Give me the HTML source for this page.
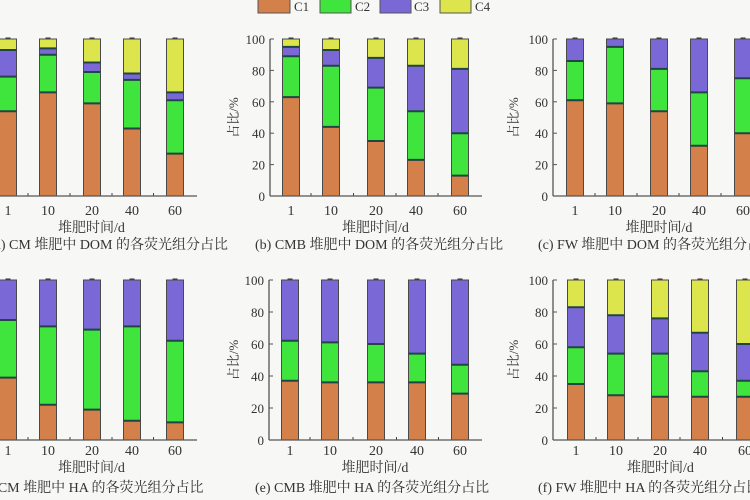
<!DOCTYPE html>
<html><head><meta charset="utf-8"><style>
html,body{margin:0;padding:0;background:#f7f7f5;}
svg{display:block}
text{font-family:"Liberation Serif","Noto Serif CJK SC",serif;fill:#333}
</style></head><body>
<svg id="s" width="750" height="500" viewBox="0 0 750 500" xmlns="http://www.w3.org/2000/svg">
<rect width="750" height="500" fill="#f7f7f5"/>
<!-- legend -->
<rect x="258" y="-2" width="32" height="15" fill="#d4804a" stroke="#555"/>
<text x="294" y="11" font-size="13">C1</text>
<rect x="320" y="-2" width="31" height="15" fill="#3fe43c" stroke="#555"/>
<text x="355" y="11" font-size="13">C2</text>
<rect x="380" y="-2" width="31" height="15" fill="#7a68d6" stroke="#555"/>
<text x="414" y="11" font-size="13">C3</text>
<rect x="440" y="-2" width="31" height="15" fill="#dce64c" stroke="#555"/>
<text x="475" y="11" font-size="13">C4</text>
</svg>
<script>
var C=["#d4804a","#3fe43c","#7a68d6","#dce64c"];
var s=document.getElementById("s"),h="";
var P=[
 {ax:-10,xs:[8,48,92,132,175],top:39,zero:196,lab:null,xl:215,tl:232,cap:249,capx:-10,cap_t:"(a) CM 堆肥中 DOM 的各荧光组分占比",
  d:[[54,76,93],[66,90,94],[59,79,85],[43,74,78],[27,61,66]]},
 {ax:270,xs:[291,331,376,416,460],top:39,zero:196,lab:238,xl:215,tl:232,cap:249,capx:255,cap_t:"(b) CMB 堆肥中 DOM 的各荧光组分占比",
  d:[[63,89,95],[44,83,93],[35,69,88],[23,54,83],[13,40,81]]},
 {ax:553,xs:[575,615,659,699,743],top:39,zero:196,lab:518,xl:215,tl:232,cap:249,capx:538,cap_t:"(c) FW 堆肥中 DOM 的各荧光组分占比",
  d:[[61,86,100],[59,95,100],[54,81,100],[32,66,100],[40,75,100]]},
 {ax:-10,xs:[8,48,92,132,175],top:280,zero:440,lab:null,xl:455,tl:472,cap:492,capx:-22,cap_t:"(d) CM 堆肥中 HA 的各荧光组分占比",
  d:[[39,75,100],[22,71,100],[19,69,100],[12,71,100],[11,62,100]]},
 {ax:269,xs:[290,330,376,417,460],top:280,zero:440,lab:238,xl:455,tl:472,cap:492,capx:255,cap_t:"(e) CMB 堆肥中 HA 的各荧光组分占比",
  d:[[37,62,100],[36,61,100],[36,60,100],[36,54,100],[29,47,100]]},
 {ax:553,xs:[576,616,660,700,745],top:280,zero:440,lab:518,xl:455,tl:472,cap:492,capx:538,cap_t:"(f) FW 堆肥中 HA 的各荧光组分占比",
  d:[[35,58,83],[28,54,78],[27,54,76],[27,43,67],[27,37,60]]}
];
var xl=["1","10","20","40","60"];
P.forEach(function(p){
 var sc=(p.zero-p.top)/100;
 function Y(v){return p.zero-v*sc;}
 p.d.forEach(function(d,i){
  var v=[0,d[0],d[1],d[2],100],x=p.xs[i]-8.5;
  for(var k=0;k<4;k++){if(v[k+1]-v[k]<=0)continue;
   h+='<rect x="'+x+'" y="'+Y(v[k+1])+'" width="17" height="'+(Y(v[k])-Y(v[k+1]))+'" fill="'+C[k]+'" stroke="#4a4a4a" stroke-width="1"/>';}
  for(var k=1;k<4;k++){if(v[k]<100)h+='<line x1="'+x+'" x2="'+(x+17)+'" y1="'+Y(v[k])+'" y2="'+Y(v[k])+'" stroke="#244" stroke-width="2"/>';}
  h+='<line x1="'+(x+6)+'" x2="'+(x+11)+'" y1="'+(p.top-1)+'" y2="'+(p.top-1)+'" stroke="#333"/>';
  h+='<text x="'+p.xs[i]+'" y="'+p.xl+'" font-size="14" text-anchor="middle">'+xl[i]+'</text>';
  if(i<4){var mx=(p.xs[i]+p.xs[i+1])/2;h+='<line x1="'+mx+'" x2="'+mx+'" y1="'+p.zero+'" y2="'+(p.zero-3)+'" stroke="#444"/>';}
 });
 h+='<line x1="'+p.ax+'" x2="'+(p.xs[4]+22)+'" y1="'+p.zero+'" y2="'+p.zero+'" stroke="#555" stroke-width="1.3"/>';
 h+='<line x1="'+p.ax+'" x2="'+p.ax+'" y1="'+p.top+'" y2="'+p.zero+'" stroke="#555" stroke-width="1.3"/>';
 for(var t=0;t<=100;t+=20){var y=Y(t);
  h+='<line x1="'+p.ax+'" x2="'+(p.ax+4)+'" y1="'+y+'" y2="'+y+'" stroke="#555"/>';
  h+='<text x="'+(p.ax-5)+'" y="'+(y+5)+'" font-size="13" text-anchor="end">'+t+'</text>';}
 if(p.lab!==null){var cy=(p.top+p.zero)/2;
  h+='<text x="'+p.lab+'" y="'+cy+'" font-size="13" text-anchor="middle" transform="rotate(-90 '+p.lab+' '+cy+')">占比/%</text>';}
 h+='<text x="'+((p.xs[0]+p.xs[4])/2)+'" y="'+p.tl+'" font-size="14" text-anchor="middle">堆肥时间/d</text>';
 h+='<text x="'+p.capx+'" y="'+p.cap+'" font-size="14">'+p.cap_t+'</text>';
});
s.insertAdjacentHTML("beforeend",h);
</script>
</body></html>
